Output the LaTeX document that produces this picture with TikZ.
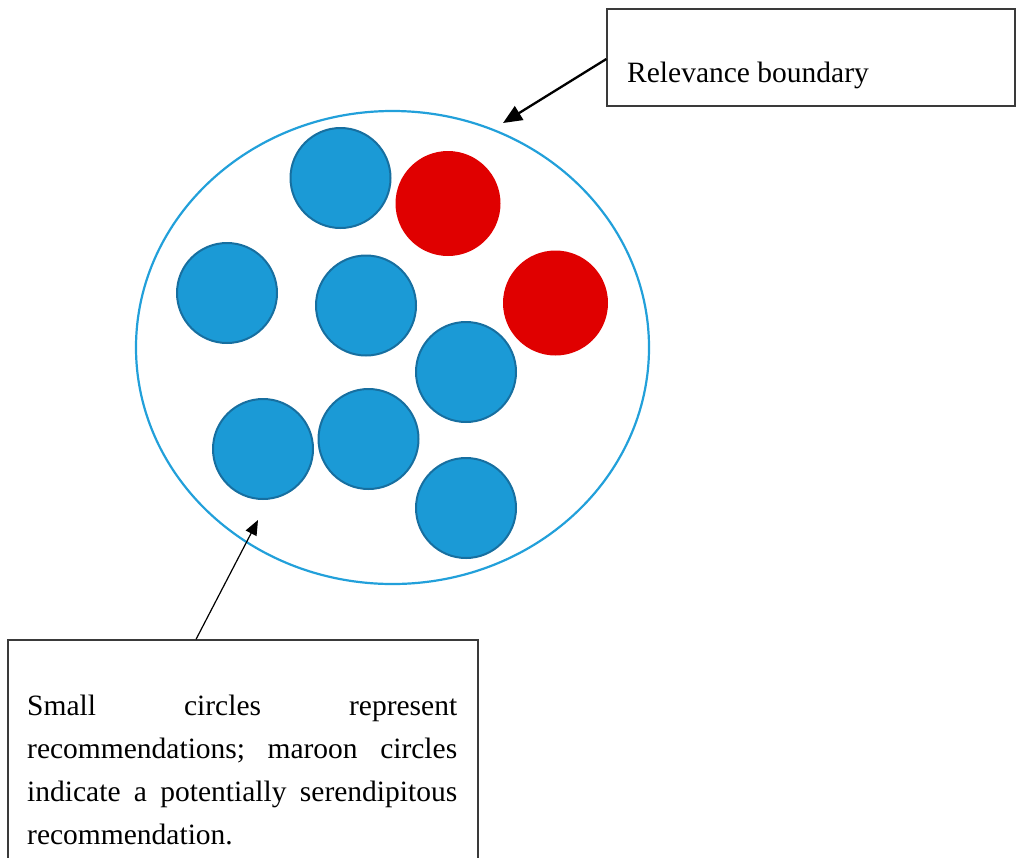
\documentclass[tikz,border=0pt]{standalone}
\usepackage{fontspec}
\setmainfont{Liberation Serif}
\usetikzlibrary{arrows.meta,shapes.geometric}
\definecolor{recblue}{HTML}{1B9AD6}
\definecolor{recedge}{HTML}{176FA0}
\definecolor{boundary}{HTML}{22A0DA}
\definecolor{serend}{HTML}{E00000}
\definecolor{boxline}{HTML}{3A3A3A}
\tikzset{
  rec/.style={circle, fill=recblue, draw=recedge, line width=2pt, minimum size=100pt, inner sep=0pt},
  serendip/.style={circle, fill=serend, minimum size=105pt, inner sep=0pt},
  calloutbox/.style={rectangle, draw=boxline, line width=1.3pt, inner sep=0pt},
  calloutarrow/.style={-{Triangle[length=19pt,width=16pt]}, line width=2.3pt},
  thinarrow/.style={-{Triangle[length=15pt,width=12pt]}, line width=1.2pt},
  captext/.style={inner sep=0pt, font=\fontsize{29.5}{43}\selectfont}
}
\begin{document}
\begin{tikzpicture}[x=1pt,y=-1pt]
\useasboundingbox (0,0) rectangle (1016,857);
% relevance boundary
\node[ellipse, draw=boundary, line width=2.2pt, minimum width=513pt, minimum height=473pt, inner sep=0pt] (bound) at (392.5,347.5) {};
% recommendations
\node[rec] (r1) at (340.5,178) {};
\node[rec] (r2) at (227,293) {};
\node[rec] (r3) at (366,305.5) {};
\node[rec] (r4) at (466,372) {};
\node[rec] (r5) at (263,449) {};
\node[rec] (r6) at (368.5,439) {};
\node[rec] (r7) at (466,508) {};
% potentially serendipitous recommendations
\node[serendip] (s1) at (448,203.5) {};
\node[serendip] (s2) at (555.5,303) {};
% callout: boundary
\node[calloutbox, minimum width=408pt, minimum height=97pt] (relbox) at (811,57.5) {};
\node[captext, anchor=base west] (rellabel) at (627,82) {Relevance boundary};
\coordinate (reltip) at (503,123);
\draw[calloutarrow] (relbox.west |- 0,59) -- (reltip);
% callout: circles
\node[calloutbox, minimum width=470pt, minimum height=240pt] (notebox) at (243,760) {};
\node[captext, anchor=base west] (notetext) at (27,715) {\vtop{\hsize=430pt \baselineskip=43pt
  \hbox to 430pt{Small\hfill circles\hfill represent}
  \hbox to 430pt{recommendations;\hfill maroon\hfill circles}
  \hbox to 430pt{indicate\hfill a\hfill potentially\hfill serendipitous}
  \hbox{recommendation.}}};
\coordinate (notetip) at (258,520);
\draw[thinarrow] (notebox.north -| 196,0) -- (notetip);
\end{tikzpicture}
\end{document}
